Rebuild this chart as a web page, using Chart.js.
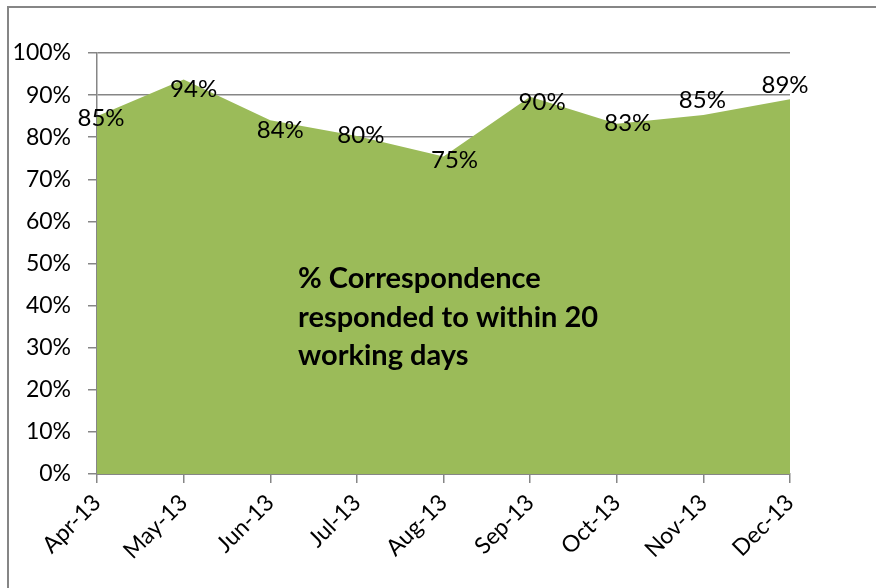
<!DOCTYPE html>
<html>
<head>
<meta charset="utf-8">
<script src="https://cdn.jsdelivr.net/npm/chart.js@4/dist/chart.umd.min.js"></script>
<style>
  html, body { margin: 0; padding: 0; background: #fff; }
  #wrap { width: 876px; height: 588px; }
</style>
</head>
<body>
<div id="wrap"><canvas id="chart" width="876" height="588"></canvas></div>
<script>
// data
const MONTHS = ["Apr-13", "May-13", "Jun-13", "Jul-13", "Aug-13", "Sep-13", "Oct-13", "Nov-13", "Dec-13"];
const RESPONDED = [85, 93.7, 84, 80.3, 75.4, 89.6, 83.2, 85.3, 89];
const AREA_TEXT = ["% Correspondence", "responded to within 20", "working days"];

const GREEN = "#9bbb59";
const GREY = "#868686";
const FONT = "Lato";

// label nudges (label centre relative to point), like the hand-moved labels in the sheet
const LABEL_NUDGE = [[4, 2], [10, 10], [10, 10], [4, -1], [11, 4], [12, 5], [11, 0], [-1, -15], [-5, -14]];

const frame = {
    id: "frame",
    beforeDraw: (chart) => {
        const ctx = chart.ctx;
        ctx.save();
        ctx.strokeStyle = GREY;
        ctx.lineWidth = 2;
        ctx.beginPath();
        ctx.moveTo(8, 588);
        ctx.lineTo(8, 7);
        ctx.lineTo(876, 7);
        ctx.stroke();
        ctx.restore();
    }
};

const labels = {
    id: "labels",
    afterDatasetsDraw: (chart) => {
        const ctx = chart.ctx;
        const meta = chart.getDatasetMeta(0);
        const area = chart.chartArea;
        ctx.save();
        ctx.fillStyle = "#000";
        ctx.font = "24px " + FONT;
        ctx.textAlign = "center";
        ctx.textBaseline = "middle";
        meta.data.forEach((pt, i) => {
            const nudge = LABEL_NUDGE[i];
            ctx.fillText(Math.round(RESPONDED[i]) + "%", pt.x + nudge[0], pt.y + nudge[1]);
        });

        // text sitting inside the area
        ctx.font = "bold 29px " + FONT;
        ctx.textAlign = "left";
        ctx.textBaseline = "alphabetic";
        AREA_TEXT.forEach((line, i) => {
            ctx.fillText(line, area.left + 201, area.top + 235 + i * 38.5);
        });
        ctx.restore();
    }
};

new Chart(document.getElementById("chart"), {
    type: "line",
    data: {
        labels: MONTHS,
        datasets: [
            {
                label: "% Correspondence responded to within 20 working days",
                data: RESPONDED,
                fill: "origin",
                backgroundColor: GREEN,
                borderColor: GREEN,
                borderWidth: 0,
                pointRadius: 0,
                tension: 0
            }
        ]
    },
    options: {
        responsive: false,
        animation: false,
        layout: {
            padding: { left: 0, top: 53, right: 86, bottom: 0 }
        },
        plugins: {
            legend: { display: false },
            tooltip: { enabled: false }
        },
        scales: {
            x: {
                offset: false,
                grid: {
                    drawOnChartArea: false,
                    drawTicks: true,
                    tickLength: 9,
                    color: GREY,
                    lineWidth: 1.5
                },
                border: { color: GREY, width: 2 },
                ticks: {
                    minRotation: 45,
                    maxRotation: 45,
                    color: "#000",
                    padding: 6,
                    font: { family: FONT, size: 23 }
                },
                afterFit: (scale) => { scale.height = 114; }
            },
            y: {
                min: 0,
                max: 100,
                grid: {
                    color: GREY,
                    lineWidth: 1.5,
                    tickLength: 9
                },
                border: { color: GREY, width: 1.5 },
                ticks: {
                    stepSize: 10,
                    color: "#000",
                    padding: 17,
                    font: { family: FONT, size: 23 },
                    callback: (v) => v + "%"
                },
                afterFit: (scale) => { scale.width = 97; }
            }
        }
    },
    plugins: [frame, labels]
});
</script>
</body>
</html>
